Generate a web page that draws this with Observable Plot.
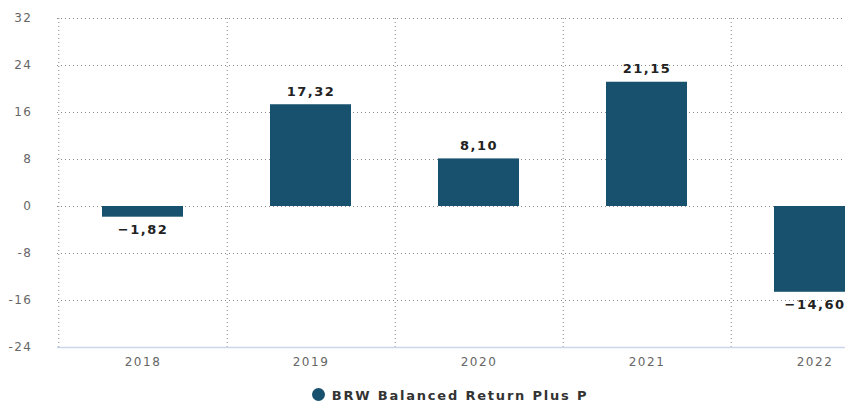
<!DOCTYPE html>
<html>
<head>
<meta charset="utf-8">
<script src="https://cdn.jsdelivr.net/npm/d3@7"></script>
<script src="https://cdn.jsdelivr.net/npm/@observablehq/plot@0.6"></script>
<style>
  html, body { margin: 0; padding: 0; overflow: hidden; background: #fff; width: 845px; height: 404px; }
  #chart svg { max-width: none !important; }
  #legend { width: 900px; text-align: center; font-family: "DejaVu Sans", sans-serif; font-size: 13px; font-weight: bold; color: #333; letter-spacing: 1.8px; margin-top: 13px; }
  #legend .dot { display: inline-block; width: 13px; height: 13px; border-radius: 50%; background: #17516e; vertical-align: -1px; margin-right: 7px; }
</style>
</head>
<body>
<div id="chart"></div>
<div id="legend"><span class="dot"></span>BRW Balanced Return Plus P</div>
<script>
const years = ["2018", "2019", "2020", "2021", "2022"];
const returns = [-1.82, 17.32, 8.10, 21.15, -14.60];
const yTicks = [-24, -16, -8, 0, 8, 16, 24, 32];
const seriesName = "BRW Balanced Return Plus P";

const data = years.map((y, i) => ({ year: y, value: returns[i] }));
const fmt = v => v.toFixed(2).replace(".", ",").replace("-", "\u2212");

const W = 900, ML = 57, MR = 1;
const step = (W - ML - MR) / years.length;

const chart = Plot.plot({
  width: W,
  height: 375,
  marginLeft: ML,
  marginRight: MR,
  marginTop: 18,
  marginBottom: 28,
  style: { fontFamily: "DejaVu Sans, sans-serif", fontSize: "11px", color: "#666", letterSpacing: "1.5px", overflow: "visible", maxWidth: "none" },
  x: { domain: years, paddingInner: 0.52, paddingOuter: 0.26, label: null },
  y: { domain: [-24, 32], ticks: yTicks, label: null },
  marks: [
    Plot.ruleY(yTicks, { stroke: "#888", strokeDasharray: "1,3", strokeWidth: 1 }),
    Plot.ruleX([years[0]], { x: d => d, dx: -step / 2, stroke: "#888", strokeDasharray: "1,3" }),
    Plot.ruleX(years.slice(0, -1), { x: d => d, dx: step / 2, stroke: "#888", strokeDasharray: "1,3" }),
    Plot.barY(data, { x: "year", y: "value", fill: "#17516e" }),
    Plot.ruleY([-24], { stroke: "#ccd6eb", strokeWidth: 1.5 }),
    Plot.text(data.filter(d => d.value >= 0), { x: "year", y: "value", text: d => fmt(d.value), dy: -13, fontWeight: "bold", fontSize: 13, fill: "#222", style: "letter-spacing:1.8px" }),
    Plot.text(data.filter(d => d.value < 0), { x: "year", y: "value", text: d => fmt(d.value), dy: 13, fontWeight: "bold", fontSize: 13, fill: "#222" }),
    Plot.axisY({ ticks: yTicks, tickSize: 0, tickPadding: 25, fill: "#666", fontSize: 12, tickFormat: d => String(d) }),
    Plot.axisX({ tickSize: 0, tickPadding: 10, fill: "#666", fontSize: 12 })
  ]
});
document.getElementById("chart").appendChild(chart);
</script>
</body>
</html>
